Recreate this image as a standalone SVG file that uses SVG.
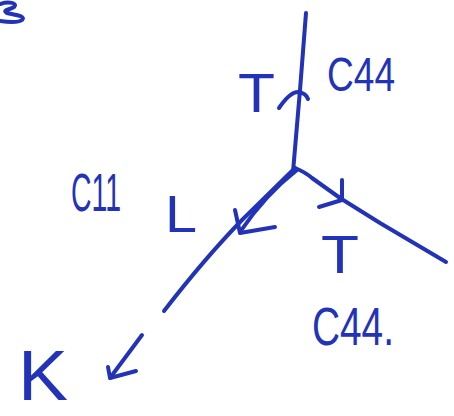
<svg xmlns="http://www.w3.org/2000/svg" width="454" height="416" viewBox="0 0 454 416">
  <style>
    .ink { fill: none; stroke: #2233b8; stroke-width: 4; stroke-linecap: round; stroke-linejoin: round; }
    .lbl { fill: #2233b8; font-family: "Liberation Sans", "DejaVu Sans", sans-serif; }
  </style>
  <rect width="454" height="416" fill="#ffffff"/>

  <!-- corner scribble -->
  <path class="ink" d="M0 4 C9 1 18 3 14 7 C9 10 2 10 7 13 C16 15 26 16 22 20 C18 23 7 22 0 21" stroke-width="4.5"/>

  <!-- axes and polarisation arrows -->
  <g id="connectors">
    <!-- vertical axis -->
    <path class="ink" d="M306 13 L300 90 L293 172"/>
    <path class="ink" d="M279 108 Q290 92 298 92 Q306 93 308 99"/>
    <!-- lower-left axis -->
    <path class="ink" d="M295 168 L242 220 Q205 258 164 311"/>
    <path class="ink" d="M297 170 Q265 195 240 232"/>
    <path class="ink" d="M235 210 L240 233 L275 227"/>
    <!-- right axis -->
    <path class="ink" d="M295 168 Q305 172 312 178 L340 198 L380 223 L446 262"/>
    <path class="ink" d="M342 180 L342 200 L319 207"/>
    <!-- lone arrow near K -->
    <path class="ink" d="M142 335 L110 378"/>
    <path class="ink" d="M108 367 L110 378 L136 371"/>
  </g>

  <g id="label-T-top"><text class="lbl" x="238" y="112" font-size="56" textLength="37" lengthAdjust="spacingAndGlyphs">T</text></g>
  <g id="label-C44-top"><text class="lbl" x="327" y="91" font-size="48" textLength="68" lengthAdjust="spacingAndGlyphs">C44</text></g>
  <g id="label-C11"><text class="lbl" x="71" y="211" font-size="54" textLength="50" lengthAdjust="spacingAndGlyphs">C11</text></g>
  <g id="label-L"><text class="lbl" x="165" y="232" font-size="52" textLength="32" lengthAdjust="spacingAndGlyphs">L</text></g>
  <g id="label-T-right"><text class="lbl" x="321" y="273" font-size="54" textLength="38" lengthAdjust="spacingAndGlyphs">T</text></g>
  <g id="label-C44-bottom"><text class="lbl" x="312" y="345" font-size="54" textLength="82" lengthAdjust="spacingAndGlyphs">C44.</text></g>
  <g id="label-K"><text class="lbl" x="18" y="400" font-size="70" textLength="50" lengthAdjust="spacingAndGlyphs">K</text></g>
</svg>
